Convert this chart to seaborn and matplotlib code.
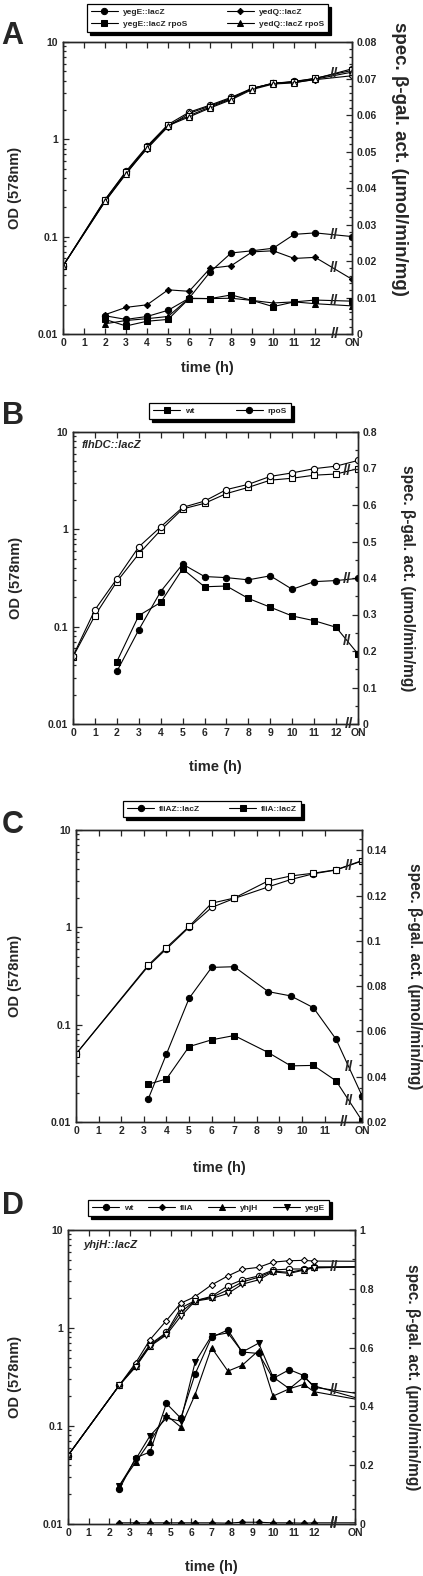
import numpy as np
import pandas as pd
import matplotlib.pyplot as plt
import matplotlib.transforms as mtransforms
from matplotlib.ticker import FixedLocator, MultipleLocator, FuncFormatter, NullFormatter, LogLocator
import seaborn as sns

sns.set_style("ticks")
plt.rcParams['font.family'] = ['Liberation Sans', 'DejaVu Sans']
plt.rcParams['font.weight'] = 'bold'

# ---------------- panel A: yegE / yedQ ----------------
a_od_hours = [0, 2, 3, 4, 5, 6, 7, 8, 9, 10, 11, 12]
a_act_hours = [2, 3, 4, 5, 6, 7, 8, 9, 10, 11, 12]
a_names = ["yegE::lacZ", "yedQ::lacZ", "yegE::lacZ rpoS", "yedQ::lacZ rpoS"]
a_od_yegE = [0.05, 0.24, 0.47, 0.85, 1.42, 1.9, 2.25, 2.7, 3.35, 3.75, 3.95, 4.2, 5.3]
a_od_yedQ = [0.05, 0.23, 0.45, 0.80, 1.35, 1.85, 2.2, 2.65, 3.3, 3.8, 3.85, 4.1, 4.5]
a_od_yegE_rpoS = [0.05, 0.24, 0.46, 0.83, 1.40, 1.75, 2.15, 2.6, 3.35, 3.75, 3.9, 4.25, 5.1]
a_od_yedQ_rpoS = [0.05, 0.23, 0.44, 0.82, 1.38, 1.7, 2.1, 2.55, 3.25, 3.7, 3.8, 4.15, 4.9]
a_act_yegE = [0.0050, 0.0040, 0.0048, 0.0065, 0.0098, 0.0170, 0.0222, 0.0228, 0.0235, 0.0273, 0.0277, 0.0267]
a_act_yedQ = [0.0053, 0.0073, 0.0080, 0.0121, 0.0117, 0.0180, 0.0187, 0.0225, 0.0228, 0.0207, 0.0210, 0.0150]
a_act_yegE_rpoS = [0.0040, 0.0022, 0.0035, 0.0040, 0.0097, 0.0097, 0.0107, 0.0092, 0.0075, 0.0088, 0.0093, 0.0090]
a_act_yedQ_rpoS = [0.0028, 0.0037, 0.0042, 0.0048, 0.0098, 0.0097, 0.0098, 0.0092, 0.0085, 0.0088, 0.0083, 0.0077]

# ---------------- panel B: flhDC::lacZ ----------------
b_od_hours = [0, 1, 2, 3, 4, 5, 6, 7, 8, 9, 10, 11, 12]
b_act_hours = [2, 3, 4, 5, 6, 7, 8, 9, 10, 11, 12]
b_names = ["wt", "rpoS"]
b_od_wt = [0.049, 0.13, 0.29, 0.56, 0.98, 1.62, 1.85, 2.33, 2.7, 3.2, 3.35, 3.6, 3.7, 4.2]
b_od_rpoS = [0.05, 0.149, 0.31, 0.66, 1.06, 1.68, 1.95, 2.56, 2.9, 3.5, 3.8, 4.2, 4.46, 5.1]
b_act_wt = [0.171, 0.297, 0.333, 0.425, 0.376, 0.378, 0.344, 0.32, 0.296, 0.283, 0.265, 0.192]
b_act_rpoS = [0.144, 0.258, 0.363, 0.438, 0.404, 0.401, 0.395, 0.406, 0.369, 0.39, 0.393, 0.399]

# ---------------- panel C: fliAZ / fliA ----------------
c_od_hours = [0, 3.2, 4, 5, 6, 7, 8.5, 9.5, 10.5, 11.5]
c_act_hours = [3.2, 4, 5, 6, 7, 8.5, 9.5, 10.5, 11.5]
c_names = ["fliAZ::lacZ", "fliA::lacZ"]
c_od_fliAZ = [0.05, 0.40, 0.60, 1.0, 1.6, 1.98, 2.6, 3.1, 3.55, 3.88, 4.8]
c_od_fliA = [0.05, 0.41, 0.62, 1.02, 1.77, 2.0, 3.0, 3.37, 3.6, 3.9, 4.85]
c_act_fliAZ = [0.0303, 0.050, 0.0746, 0.0883, 0.0886, 0.0776, 0.0757, 0.0705, 0.0566, 0.0316]
c_act_fliA = [0.0367, 0.039, 0.0533, 0.0563, 0.0582, 0.0507, 0.0448, 0.045, 0.0382, 0.0206]

# ---------------- panel D: yhjH::lacZ ----------------
d_od_hours = [0, 2.5, 3.3, 4, 4.8, 5.5, 6.2, 7, 7.8, 8.5, 9.3, 10, 10.8, 11.5, 12]
d_act_hours = [2.5, 3.3, 4, 4.8, 5.5, 6.2, 7, 7.8, 8.5, 9.3, 10, 10.8, 11.5, 12]
d_names = ["wt", "fliA", "yhjH", "yegE"]
d_od_wt = [0.05, 0.26, 0.42, 0.68, 0.90, 1.6, 1.9, 2.1, 2.7, 3.1, 3.4, 3.9, 4.0, 4.0, 4.2, 4.2]
d_od_fliA = [0.05, 0.26, 0.44, 0.76, 1.19, 1.79, 2.09, 2.75, 3.4, 3.97, 4.16, 4.7, 4.86, 4.9, 4.82, 4.8]
d_od_yhjH = [0.05, 0.26, 0.41, 0.66, 0.88, 1.45, 1.9, 2.05, 2.45, 2.95, 3.3, 3.8, 3.7, 3.95, 4.15, 4.2]
d_od_yegE = [0.05, 0.26, 0.40, 0.65, 0.85, 1.32, 1.88, 2.0, 2.25, 2.8, 3.1, 3.75, 3.6, 3.9, 4.1, 4.2]
d_act_wt = [0.118, 0.225, 0.245, 0.41, 0.36, 0.51, 0.635, 0.66, 0.585, 0.58, 0.495, 0.525, 0.505, 0.465, 0.445]
d_act_fliA = [0.004, 0.004, 0.004, 0.004, 0.004, 0.004, 0.004, 0.003, 0.006, 0.006, 0.004, 0.004, 0.003, 0.004, 0.004]
d_act_yhjH = [0.13, 0.21, 0.28, 0.37, 0.33, 0.44, 0.60, 0.52, 0.54, 0.59, 0.435, 0.46, 0.475, 0.45, 0.425]
d_act_yegE = [0.13, 0.22, 0.30, 0.36, 0.35, 0.55, 0.64, 0.65, 0.585, 0.615, 0.50, 0.46, 0.50, 0.47, 0.43]

W, H = 423, 1576
fig = plt.figure(figsize=(W / 100, H / 100), dpi=100)


def px_rect(left, right, top, bottom):
    return [left / W, 1 - bottom / H, (right - left) / W, (bottom - top) / H]


def place_breaks(marks):
    # marks: (axis, x, y); skip a mark that would sit on top of one already placed
    placed = []
    for a, xm, ym in marks:
        px, py = a.transData.transform((xm, ym))
        if any(abs(py - qy) < 11 and abs(px - qx) < 12 for qx, qy in placed):
            continue
        placed.append((px, py))
        a.text(xm, ym, "//", ha="center", va="center", fontsize=11, zorder=5)


def draw_panel(rect, letter, letter_top, od_hours, od_sets, act_hours, act_sets, names, markers,
               on_pos, last_tick, act_lim, act_major, act_minor, leg_ncol, leg_x, leg_y, leg_order,
               label_x, label_rx, label_ry, label_rsize, label_ty, axis_break, note=None,
               note_xy=None, mark_on=True, leg_colsp=2.0):
    ax = fig.add_axes(rect)
    ax2 = ax.twinx()
    ax.set_yscale("log")
    handles = []
    marks = []
    for name, od, act, mk in zip(names, od_sets, act_sets, markers):
        ms = 3.2 if mk == "D" else 4.5
        xo = list(od_hours) + [on_pos]
        xa = list(act_hours) + [on_pos]
        me_o = list(range(len(xo) if mark_on else len(xo) - 1))
        me_a = list(range(len(xa) if mark_on else len(xa) - 1))
        sns.lineplot(x=xo, y=od, ax=ax, color="black", marker=mk, markersize=ms, mfc="white",
                     mec="black", mew=0.8, lw=0.8, estimator=None, sort=False, markevery=me_o)
        sns.lineplot(x=xa, y=act, ax=ax2, color="black", marker=mk, markersize=ms, mfc="black",
                     mec="black", lw=0.8, estimator=None, sort=False, markevery=me_a)
        handles.append(ax2.lines[-1])
        marks.append((ax2, (xa[-2] + xa[-1]) / 2, (act[-2] + act[-1]) / 2))
    od_mid = np.sqrt(od_sets[0][-2] * od_sets[0][-1])
    marks.insert(0, (ax, (od_hours[-1] + on_pos) / 2, od_mid))

    ax.set_xlim(0, on_pos)
    ax.set_ylim(0.01, 10)
    ax2.set_ylim(*act_lim)
    ticks = list(range(0, last_tick + 1)) + [on_pos]
    ax.xaxis.set_major_locator(FixedLocator(ticks))
    ax.set_xticklabels([str(t) for t in range(0, last_tick + 1)] + ["ON"])
    ax.yaxis.set_major_locator(FixedLocator([0.01, 0.1, 1, 10]))
    ax.yaxis.set_major_formatter(FuncFormatter(lambda v, p: "%g" % v))
    ax.yaxis.set_minor_locator(LogLocator(subs=np.arange(2, 10)))
    ax.yaxis.set_minor_formatter(NullFormatter())
    ax2.yaxis.set_major_locator(MultipleLocator(act_major))
    ax2.yaxis.set_minor_locator(MultipleLocator(act_minor))
    ax2.yaxis.set_major_formatter(FuncFormatter(lambda v, p: "%g" % round(v, 4)))
    for a in (ax, ax2):
        a.tick_params(which="both", direction="in", labelsize=7.5, width=0.9)
        a.tick_params(which="major", length=4)
        a.tick_params(which="minor", length=2)
        for s in a.spines.values():
            s.set_linewidth(1.0)
    ax.tick_params(axis="x", top=True, pad=3)
    ax.tick_params(axis="y", right=False)

    place_breaks(marks)

    ax.set_xlabel("time (h)", fontsize=10.5, fontweight="bold", va="center")
    ax.xaxis.set_label_coords(0.5, label_ty)
    ax.set_ylabel("OD (578nm)", fontsize=10.5, fontweight="bold", va="center")
    ax.yaxis.set_label_coords(label_x, 0.5)
    ax2.set_ylabel("spec. \u03b2-gal. act. (\u00b5mol/min/mg)", fontsize=label_rsize,
                   fontweight="bold", rotation=270, va="center")
    ax2.yaxis.set_label_coords(label_rx, label_ry)

    # axis break on the time axis
    trans = mtransforms.blended_transform_factory(ax.transData, ax.transAxes)
    ax.text(axis_break, 0.0, "//", transform=trans, ha="center", va="center", fontsize=11,
            clip_on=False, zorder=6)

    if note:
        ax.text(note_xy[0], note_xy[1], note, transform=ax.transAxes, fontsize=8,
                fontweight="bold", fontstyle="italic", ha="left", va="center")

    h = [handles[i] for i in leg_order]
    l = [names[i] for i in leg_order]
    ax2.legend(h, l, loc="lower center", bbox_to_anchor=(leg_x, leg_y), ncol=leg_ncol,
               frameon=True, fancybox=False, edgecolor="black", framealpha=1,
               shadow={"color": "black", "alpha": 1}, prop={"size": 6, "weight": "bold"},
               handlelength=3.2, columnspacing=leg_colsp, borderpad=0.5, handletextpad=0.6,
               labelspacing=0.45).get_frame().set_linewidth(0.9)

    fig.text(0.004, 1 - letter_top / H, letter, fontsize=22, fontweight="bold",
             ha="left", va="top")
    return ax, ax2


draw_panel(px_rect(63, 352, 42, 334), "A", 21, a_od_hours,
           [a_od_yegE, a_od_yedQ, a_od_yegE_rpoS, a_od_yedQ_rpoS], a_act_hours,
           [a_act_yegE, a_act_yedQ, a_act_yegE_rpoS, a_act_yedQ_rpoS], a_names,
           ["o", "D", "s", "^"], 13.75, 12, (0, 0.08), 0.01, 0.002, 2, 0.5, 1.02, [0, 2, 1, 3],
           -0.166, 1.166, 0.6, 13.5, -0.116, 12.95, leg_colsp=4.8)

draw_panel(px_rect(73, 358, 432, 724), "B", 401, b_od_hours, [b_od_wt, b_od_rpoS], b_act_hours,
           [b_act_wt, b_act_rpoS], b_names, ["s", "o"], 13, 12, (0, 0.8), 0.1, 0.05, 2, 0.516,
           1.03, [0, 1], -0.2, 1.175, 0.5, 11.2, -0.147, 12.6, note="flhDC::lacZ",
           note_xy=(0.03, 0.955), leg_colsp=5)

draw_panel(px_rect(76, 362, 830, 1122), "C", 810, c_od_hours, [c_od_fliAZ, c_od_fliA], c_act_hours,
           [c_act_fliAZ, c_act_fliA], c_names, ["o", "s"], 12.65, 11, (0.02, 0.149), 0.02, 0.005,
           2, 0.476, 1.03, [0, 1], -0.213, 1.185, 0.5, 11.2, -0.158, 11.85, leg_colsp=3.5)

draw_panel(px_rect(68, 355, 1230, 1524), "D", 1191, d_od_hours,
           [d_od_wt, d_od_fliA, d_od_yhjH, d_od_yegE], d_act_hours,
           [d_act_wt, d_act_fliA, d_act_yhjH, d_act_yegE], d_names, ["o", "D", "^", "v"], 14, 12,
           (0, 1), 0.2, 0.05, 4, 0.49, 1.034, [0, 1, 2, 3], -0.185, 1.2, 0.5, 11.2, -0.146, 13.0,
           note="yhjH::lacZ", note_xy=(0.055, 0.95), mark_on=False, leg_colsp=1.8)

fig.savefig("out.png", dpi=100)
